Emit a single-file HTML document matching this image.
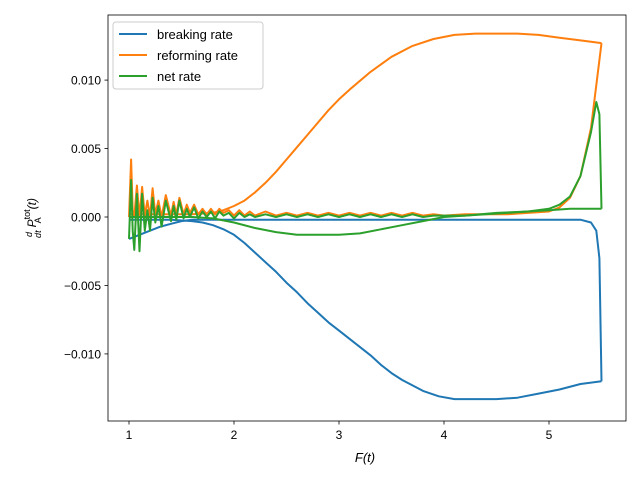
<!DOCTYPE html>
<html><head><meta charset="utf-8"><style>
body{margin:0;background:#fff}
svg{font-family:"Liberation Sans","DejaVu Sans",sans-serif}
</style></head><body>
<svg id="chart" width="640" height="480" viewBox="0 0 640 480">
<rect width="640" height="480" fill="#fff"/>
<g id="plot"></g>
<g id="axes"></g>
<g>
<rect x="113" y="22" width="150" height="67" rx="3" fill="#fff" fill-opacity="0.8" stroke="#ccc"/>
<line x1="119" y1="34" x2="147" y2="34" stroke="#1f77b4" stroke-width="2"/>
<text x="157" y="39" font-size="13">breaking rate</text>
<line x1="119" y1="55" x2="147" y2="55" stroke="#ff7f0e" stroke-width="2"/>
<text x="157" y="60" font-size="13">reforming rate</text>
<line x1="119" y1="76" x2="147" y2="76" stroke="#2ca02c" stroke-width="2"/>
<text x="157" y="81" font-size="13">net rate</text>
</g>
<text x="365" y="462" font-size="13" font-style="italic" text-anchor="middle">F(t)</text>
<g transform="translate(35,218) rotate(-90)">
<text x="0" y="0" font-size="12" text-anchor="middle" font-style="italic"><tspan font-size="9" dy="-3">d</tspan><tspan font-size="9" dx="-6" dy="9">dt</tspan><tspan dy="-5" dx="3">P</tspan><tspan font-size="9" dy="-6" font-style="normal">tot</tspan><tspan font-size="9" dx="-14" dy="11" font-style="normal">A</tspan><tspan dy="-5" dx="8">(t)</tspan></text>
</g>
</svg>
<script>
const xTicks=[1,2,3,4,5];
const yTicks=[-0.010,-0.005,0.000,0.005,0.010];
const yTickLabels=["−0.010","−0.005","0.000","0.005","0.010"];
// blue: breaking rate
const blueFwdX=[1.0,1.1,1.2,1.3,1.4,1.5,1.6,1.8,2.5,3.5,4.5,5.0,5.3,5.4,5.45,5.48,5.5];
const blueFwdY=[-0.0016,-0.0013,-0.0010,-0.0007,-0.0005,-0.0003,-0.0002,-0.0002,-0.0002,-0.0002,-0.0002,-0.0002,-0.0002,-0.0004,-0.0010,-0.0030,-0.0120];
const blueRetX=[5.5,5.3,5.1,4.9,4.7,4.5,4.3,4.1,3.95,3.8,3.7,3.6,3.5,3.4,3.3,3.2,3.1,3.0,2.9,2.8,2.7,2.6,2.5,2.4,2.3,2.2,2.1,2.0,1.9,1.8,1.7,1.6,1.4,1.2,1.0];
const blueRetY=[-0.0120,-0.0122,-0.0126,-0.0129,-0.0132,-0.0133,-0.0133,-0.0133,-0.0131,-0.0127,-0.0123,-0.0119,-0.0114,-0.0108,-0.0101,-0.0095,-0.0089,-0.0083,-0.0077,-0.0070,-0.0063,-0.0055,-0.0048,-0.0040,-0.0033,-0.0026,-0.0019,-0.0013,-0.0009,-0.0006,-0.0004,-0.0003,-0.0002,-0.0002,-0.0002];
// orange: reforming rate
const orangeFwdX=[1.0,1.02,1.035,1.05,1.075,1.1,1.125,1.15,1.175,1.2,1.225,1.25,1.28,1.31,1.35,1.4,1.425,1.45,1.48,1.52,1.55,1.58,1.62,1.66,1.7,1.74,1.78,1.82,1.86,1.9,1.95,2.0,2.05,2.1,2.15,2.2,2.3,2.4,2.5,2.6,2.7,2.8,2.9,3.0,3.1,3.2,3.3,3.4,3.5,3.6,3.7,3.8,3.9,4.0,4.2,4.4,4.6,4.8,5.0,5.1,5.2,5.3,5.4,5.5];
const orangeFwdY=[0.0000,0.0042,0.0005,0.0000,0.0023,0.0000,0.0022,0.0001,0.0012,0.0000,0.0021,0.0002,0.0012,0.0000,0.0016,0.0001,0.0011,0.0002,0.0014,0.0002,0.0009,0.0003,0.0009,0.0002,0.0006,0.0002,0.0006,0.0002,0.0006,0.0003,0.0005,0.0001,0.0005,0.0001,0.0004,0.0001,0.0004,0.0001,0.0003,0.0001,0.0003,0.0001,0.0003,0.0001,0.0003,0.0001,0.0003,0.0001,0.0003,0.0001,0.0003,0.0001,0.0002,0.0001,0.0002,0.0002,0.0002,0.0003,0.0004,0.0007,0.0014,0.0030,0.0065,0.0127];
const orangeRetX=[5.5,5.3,5.1,4.9,4.7,4.5,4.3,4.1,3.9,3.7,3.5,3.3,3.1,3.0,2.9,2.8,2.7,2.6,2.5,2.4,2.3,2.2,2.1,2.0,1.9,1.8,1.6,1.4,1.2,1.0];
const orangeRetY=[0.0127,0.0129,0.0131,0.0133,0.0134,0.0134,0.0134,0.0133,0.0130,0.0125,0.0117,0.0106,0.0093,0.0086,0.0078,0.0069,0.0060,0.0051,0.0042,0.0033,0.0025,0.0018,0.0012,0.0008,0.0005,0.0003,0.0002,0.0002,0.0002,0.0002];
// green: net rate
const greenFwdX=[1.0,1.02,1.035,1.05,1.075,1.1,1.125,1.15,1.175,1.2,1.225,1.25,1.28,1.31,1.35,1.4,1.425,1.45,1.48,1.52,1.55,1.58,1.62,1.66,1.7,1.74,1.78,1.82,1.86,1.9,1.95,2.0,2.05,2.1,2.15,2.2,2.3,2.4,2.5,2.6,2.7,2.8,2.9,3.0,3.1,3.2,3.3,3.4,3.5,3.6,3.7,3.8,3.9,4.0,4.2,4.4,4.6,4.8,5.0,5.1,5.2,5.3,5.4,5.45,5.48,5.5];
const greenFwdY=[-0.0016,0.0027,-0.0010,-0.0024,0.0017,-0.0025,0.0017,-0.0010,0.0005,-0.0010,0.0014,-0.0004,0.0008,-0.0007,0.0012,-0.0003,0.0008,-0.0002,0.0012,-0.0001,0.0006,0.0000,0.0007,-0.0001,0.0004,0.0000,0.0004,-0.0001,0.0004,0.0001,0.0003,-0.0001,0.0003,0.0000,0.0002,0.0000,0.0002,0.0000,0.0002,0.0000,0.0002,0.0000,0.0002,0.0000,0.0002,0.0000,0.0002,0.0000,0.0002,0.0000,0.0002,0.0000,0.0001,0.0001,0.0001,0.0002,0.0003,0.0004,0.0006,0.0009,0.0015,0.0030,0.0062,0.0084,0.0075,0.0006];
const greenRetX=[5.5,5.2,5.0,4.8,4.5,4.2,4.0,3.8,3.6,3.4,3.2,3.0,2.8,2.6,2.4,2.2,2.0,1.8,1.6,1.4,1.2,1.0];
const greenRetY=[0.0006,0.0006,0.0005,0.0004,0.0003,0.0001,0.0000,-0.0003,-0.0006,-0.0009,-0.0012,-0.0013,-0.0013,-0.0013,-0.0011,-0.0008,-0.0004,-0.0001,0.0000,0.0000,0.0000,0.0000];

const L=108,R=626,T=15,B=421;
function xs(v){return 129+(v-1)*105;}
function ys(v){return 217-v*13690;}
const NS="http://www.w3.org/2000/svg";
const plot=document.getElementById('plot'), axes=document.getElementById('axes');
function line(xa,ya,color,name){
  const p=document.createElementNS(NS,'path');
  p.setAttribute('d',xa.map((x,i)=>(i?'L':'M')+xs(x).toFixed(1)+','+ys(ya[i]).toFixed(1)).join(''));
  p.setAttribute('fill','none');p.setAttribute('stroke',color);p.setAttribute('stroke-width','2');p.setAttribute('stroke-linejoin','round');
  
  
  plot.appendChild(p);
}
line(blueFwdX,blueFwdY,'#1f77b4','breaking-rate-forward');
line(blueRetX,blueRetY,'#1f77b4','breaking-rate-return');
line(orangeFwdX,orangeFwdY,'#ff7f0e','reforming-rate-forward');
line(orangeRetX,orangeRetY,'#ff7f0e','reforming-rate-return');
line(greenFwdX,greenFwdY,'#2ca02c','net-rate-forward');
line(greenRetX,greenRetY,'#2ca02c','net-rate-return');
const frame=document.createElementNS(NS,'rect');
frame.setAttribute('x',L);frame.setAttribute('y',T);frame.setAttribute('width',R-L);frame.setAttribute('height',B-T);
frame.setAttribute('fill','none');frame.setAttribute('stroke','#000');frame.setAttribute('stroke-width','0.8');


axes.appendChild(frame);
xTicks.forEach(v=>{
  const x=xs(v);
  const t=document.createElementNS(NS,'line');
  t.setAttribute('x1',x);t.setAttribute('x2',x);t.setAttribute('y1',B);t.setAttribute('y2',B+3.5);t.setAttribute('stroke','#000');t.setAttribute('stroke-width','0.8');
  
  
  axes.appendChild(t);
  const s=document.createElementNS(NS,'text');
  s.setAttribute('x',x);s.setAttribute('y',B+18);s.setAttribute('font-size','12');s.setAttribute('text-anchor','middle');
  s.textContent=String(v);
  
  
  axes.appendChild(s);
});
yTicks.forEach((v,i)=>{
  const y=ys(v);
  const t=document.createElementNS(NS,'line');
  t.setAttribute('x1',L-3.5);t.setAttribute('x2',L);t.setAttribute('y1',y);t.setAttribute('y2',y);t.setAttribute('stroke','#000');t.setAttribute('stroke-width','0.8');
  
  
  axes.appendChild(t);
  const s=document.createElementNS(NS,'text');
  s.setAttribute('x',L-7);s.setAttribute('y',y+4.5);s.setAttribute('font-size','12');s.setAttribute('text-anchor','end');
  s.textContent=yTickLabels[i];
  
  
  axes.appendChild(s);
});
</script>
</body></html>
